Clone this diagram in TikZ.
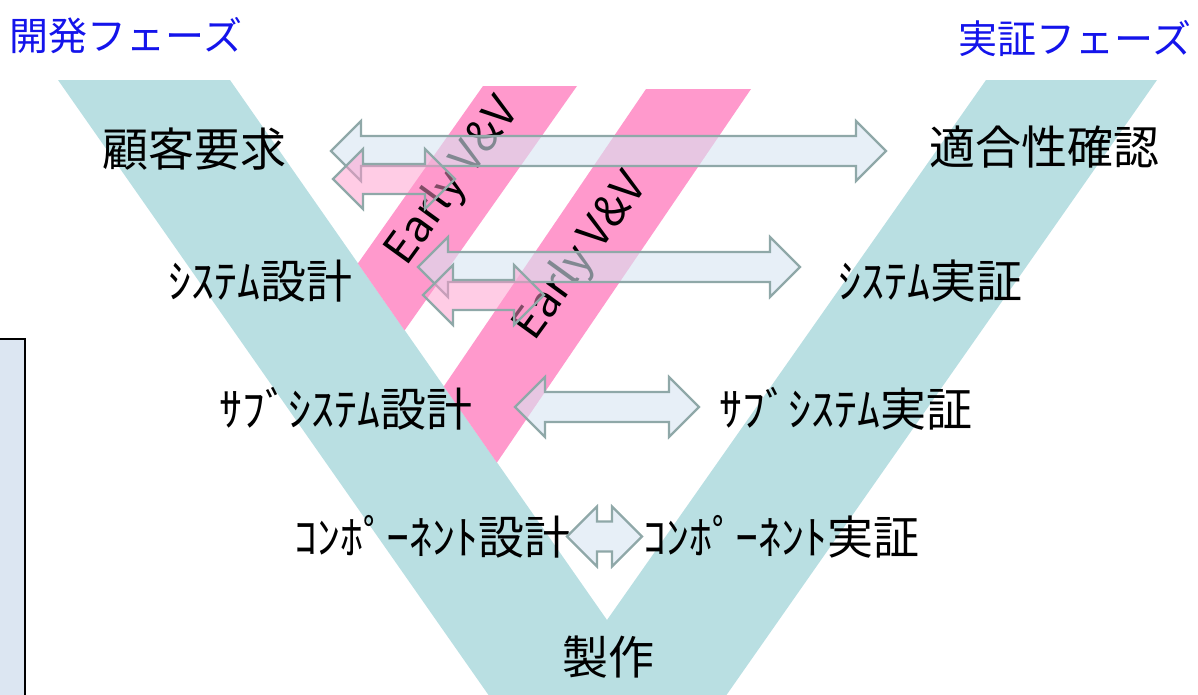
\documentclass[tikz,border=0pt]{standalone}
\usepackage{fontspec}
\setmainfont{Noto Sans CJK JP}
\definecolor{vteal}{RGB}{185,223,226}
\definecolor{vpink}{RGB}{255,153,204}
\definecolor{arrline}{RGB}{143,168,168}
\definecolor{arrfill}{RGB}{215,228,242}
\definecolor{ttlblue}{RGB}{20,20,235}
\definecolor{boxfill}{RGB}{220,230,242}
\tikzset{
  lbl/.style={inner sep=0pt, font=\fontsize{46}{46}\selectfont},
  ttl/.style={inner sep=0pt, text=ttlblue, font=\fontsize{39}{39}\selectfont},
  evlbl/.style={inner sep=0pt, rotate=54, font=\fontsize{44}{44}\selectfont},
  arrbase/.style={draw=arrline, line width=2.2pt, line join=miter},
  bluearr/.style={arrbase, fill=arrfill, fill opacity=0.6},
  pinkarr/.style={arrbase, fill=vpink, fill opacity=0.5},
}
\newcommand\blockarrow[4]{%
  \filldraw[#4] (#1,#3) -- (#1+30,#3-30) -- (#1+30,#3-15) -- (#2-30,#3-15)
    -- (#2-30,#3-30) -- (#2,#3) -- (#2-30,#3+30) -- (#2-30,#3+15)
    -- (#1+30,#3+15) -- (#1+30,#3+30) -- cycle;}
\begin{document}
\begin{tikzpicture}[x=1pt,y=-1pt]
\useasboundingbox (0,0) rectangle (1198,694);
\clip (0,0) rectangle (1198,694);
% side box
\filldraw[fill=boxfill, draw=black, line width=1.5pt] (-10,339) rectangle (25,710);
% V shape
\fill[vteal] (58,80) -- (230,80) -- (607,620) -- (986,80) -- (1157,80) -- (607.5,865) -- cycle;
% pink bands
\fill[vpink] (483,86) -- (577,86) -- (404.6,330.4) -- (357.9,263.4) -- cycle;
\fill[vpink] (646,89) -- (751,89) -- (496.9,462.6) -- (443.8,386.4) -- cycle;
\node[evlbl] (ev1) at (453,182) {Early V\&V};
\node[evlbl] (ev2) at (581,257) {Early V\&V};
% titles
\node[ttl] (devphase) at (126,36) {開発フェーズ};
\node[ttl] (verphase) at (1075,39) {実証フェーズ};
% labels
\node[lbl] (req) at (194,149) {顧客要求};
\node[lbl] (conf) at (1044,147) {適合性確認};
\node[lbl] (sysd) at (260,281) {ｼｽﾃﾑ設計};
\node[lbl] (sysv) at (930,281) {ｼｽﾃﾑ実証};
\node[lbl] (subd) at (346,409) {ｻﾌﾞｼｽﾃﾑ設計};
\node[lbl] (subv) at (846,409) {ｻﾌﾞｼｽﾃﾑ実証};
\node[lbl] (compd) at (432,537) {ｺﾝﾎﾟｰﾈﾝﾄ設計};
\node[lbl] (compv) at (781,537) {ｺﾝﾎﾟｰﾈﾝﾄ実証};
\node[lbl] (mfg) at (608,657) {製作};
% block arrows
\blockarrow{331}{886}{151}{bluearr}
\blockarrow{333}{455}{179}{pinkarr}
\blockarrow{418}{800}{267}{bluearr}
\blockarrow{423}{544}{295}{pinkarr}
\blockarrow{515}{699}{407}{bluearr}
\blockarrow{567}{642}{536.5}{bluearr}
\end{tikzpicture}
\end{document}
